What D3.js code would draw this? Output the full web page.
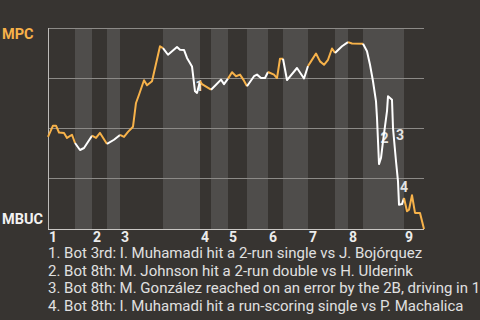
<!DOCTYPE html>
<html>
<head>
	<meta charset="utf-8" />
	<title>win probability</title>
	<script src="https://d3js.org/d3.v7.min.js" charset="utf-8"></script>
	<style>
	body { margin: 0; background: #373431; }
	svg { display: block; }
	</style>
</head>
<body>
<div id="chart"></div>
<script>

// half-inning boundaries, in plays (top 1st, bot 1st, top 2nd ...)
const halfStarts = [0, 13.5, 22, 29.5, 36, 57.5, 76, 81.5, 90, 99.5, 110, 117.5, 130, 143.5, 150, 157.5, 178, 188];
const inningLabels = ["1", "2", "3", "4", "5", "6", "7", "8", "9"];

// play index and MPC win probability (%)
const playX = [0, 2.5, 4, 5.5, 8, 9.5, 12, 13.5, 16, 18, 22, 24, 26, 29.5, 33, 36, 38, 40, 42.5, 44,
	45.5, 48, 49.5, 52, 56, 57.5, 60, 64.5, 66, 68, 69.5, 72, 73.5, 74.5, 76, 77, 81.5, 84, 86.5, 88,
	90, 92, 94, 96, 98, 99.5, 103, 104.5, 106.5, 108.5, 110, 113, 114.5, 116, 117.5, 119.5, 124.5, 128, 130, 131.5,
	134, 136, 138, 140, 142, 143.5, 147, 150, 152, 157.5, 159.5, 161, 162.5, 164, 164.5, 165.5, 166.5, 167.5, 169.5, 170,
	172, 172.5, 174, 175, 175.5, 177, 178, 179.5, 180.5, 182, 183.5, 186, 188];
const mpcProb = [45.8, 51.4, 51.4, 48.0, 47.8, 45.3, 46.9, 42.8, 39.3, 40.3, 46.4, 45.3, 47.8, 42.3, 44.4, 46.8, 45.8, 48.3, 50.9, 62.7,
	66.8, 74.0, 71.5, 73.5, 90.9, 90.0, 86.7, 90.5, 89.2, 89.1, 85.1, 80.9, 68.5, 67.7, 73.5, 72.1, 69.3, 71.8, 74.3, 72.1,
	74.8, 78.0, 76.0, 76.8, 73.8, 71.0, 76.0, 76.8, 75.1, 75.1, 78.1, 76.8, 75.1, 84.7, 84.7, 74.1, 80.1, 74.9, 81.1, 83.4,
	87.3, 83.4, 81.7, 84.2, 89.8, 87.6, 90.9, 93.0, 92.3, 92.2, 88.4, 81.7, 73.5, 63.5, 55.2, 32.3, 35.3, 43.6, 58.6, 66.0,
	64.3, 50.2, 33.7, 23.7, 12.1, 12.4, 15.4, 8.8, 9.6, 16.8, 8.0, 8.0, 0];

// key plays
const eventNums = ["1", "2", "3", "4"];
const eventX = [75.75, 168.25, 176, 178];
const eventProb = [71.4, 45.5, 46.8, 21.0];
const eventText = [
	"1. Bot 3rd: I. Muhamadi hit a 2-run single vs J. Bojórquez",
	"2. Bot 8th: M. Johnson hit a 2-run double vs H. Ulderink",
	"3. Bot 8th: M. González reached on an error by the 2B, driving in 1",
	"4. Bot 8th: I. Muhamadi hit a run-scoring single vs P. Machalica"
];

const width = 480, height = 320;
const plotLeft = 48, plotRight = 424, plotTop = 28, plotBottom = 229;
const orange = "#f7b24a", white = "#ffffff";

let svg = d3.select("#chart").append("svg")
	.attr("width", width)
	.attr("height", height)
	.style("font-family", "Roboto, sans-serif");

svg.append("rect")
	.attr("width", width)
	.attr("height", height)
	.attr("fill", "#373431");

let x = d3.scaleLinear().domain([0, 188]).range([plotLeft, plotRight]);
let y = d3.scaleLinear().domain([0, 100]).range([plotBottom, plotTop]);

// bottom-half bands
let halves = d3.range(halfStarts.length - 1).map(i => ({i: i, x0: halfStarts[i], x1: halfStarts[i + 1]}));
svg.append("g")
	.selectAll("rect")
	.data(halves.filter(d => d.i % 2 == 1))
	.enter().append("rect")
	.attr("x", d => x(d.x0))
	.attr("width", d => x(d.x1) - x(d.x0))
	.attr("y", plotTop)
	.attr("height", plotBottom - plotTop)
	.attr("fill", "#4f4d4b");

// gridlines
svg.append("g")
	.selectAll("line")
	.data([25, 50, 75, 100])
	.enter().append("line")
	.attr("x1", plotLeft)
	.attr("x2", plotRight)
	.attr("y1", d => Math.floor(y(d)) + 0.5)
	.attr("y2", d => Math.floor(y(d)) + 0.5)
	.attr("stroke", "#8c8a87")
	.attr("stroke-width", 1);

// axes
svg.append("line")
	.attr("x1", plotLeft + 0.5).attr("x2", plotLeft + 0.5)
	.attr("y1", plotTop).attr("y2", plotBottom + 1)
	.attr("stroke", "#bdbbb8");
svg.append("line")
	.attr("x1", plotLeft).attr("x2", plotRight)
	.attr("y1", plotBottom + 0.5).attr("y2", plotBottom + 0.5)
	.attr("stroke", "#c8c6c3");

// play labels on the chart
svg.append("g")
	.selectAll("text")
	.data(eventNums)
	.enter().append("text")
	.attr("x", (d, i) => x(eventX[i]))
	.attr("y", (d, i) => y(eventProb[i]))
	.attr("dy", "0.36em")
	.attr("text-anchor", "middle")
	.attr("font-size", 14)
	.attr("font-weight", "bold")
	.attr("fill", "#e4e4e4")
	.text(d => d);

// probability line, one piece per half inning
let points = playX.map((v, i) => [v, mpcProb[i]]);
let line = d3.line().x(d => x(d[0])).y(d => y(d[1]));
svg.append("g")
	.selectAll("path")
	.data(halves)
	.enter().append("path")
	.attr("d", d => line(points.filter(p => p[0] >= d.x0 && p[0] <= d.x1)))
	.attr("fill", "none")
	.attr("stroke", d => d.i % 2 == 0 ? orange : white)
	.attr("stroke-width", 2)
	.attr("stroke-linejoin", "round");

// team labels
svg.append("text")
	.attr("x", 2).attr("y", 39)
	.attr("font-size", 14.5).attr("font-weight", "bold")
	.attr("fill", orange)
	.text("MPC");
svg.append("text")
	.attr("x", 2).attr("y", 224)
	.attr("font-size", 14.5).attr("font-weight", "bold")
	.attr("fill", "#f2f2f2")
	.text("MBUC");

// inning numbers
svg.append("g")
	.selectAll("text")
	.data(inningLabels)
	.enter().append("text")
	.attr("x", (d, i) => x(halfStarts[i * 2]) + 1)
	.attr("y", 242)
	.attr("font-size", 14)
	.attr("font-weight", "bold")
	.attr("fill", "#ececec")
	.text(d => d);

// play descriptions
svg.append("g")
	.selectAll("text")
	.data(eventText)
	.enter().append("text")
	.attr("x", plotLeft)
	.attr("y", (d, i) => 258 + i * 17.7)
	.attr("font-size", 15)
	.attr("fill", "#e0e0e0")
	.text(d => d);

</script>
</body>
</html>
